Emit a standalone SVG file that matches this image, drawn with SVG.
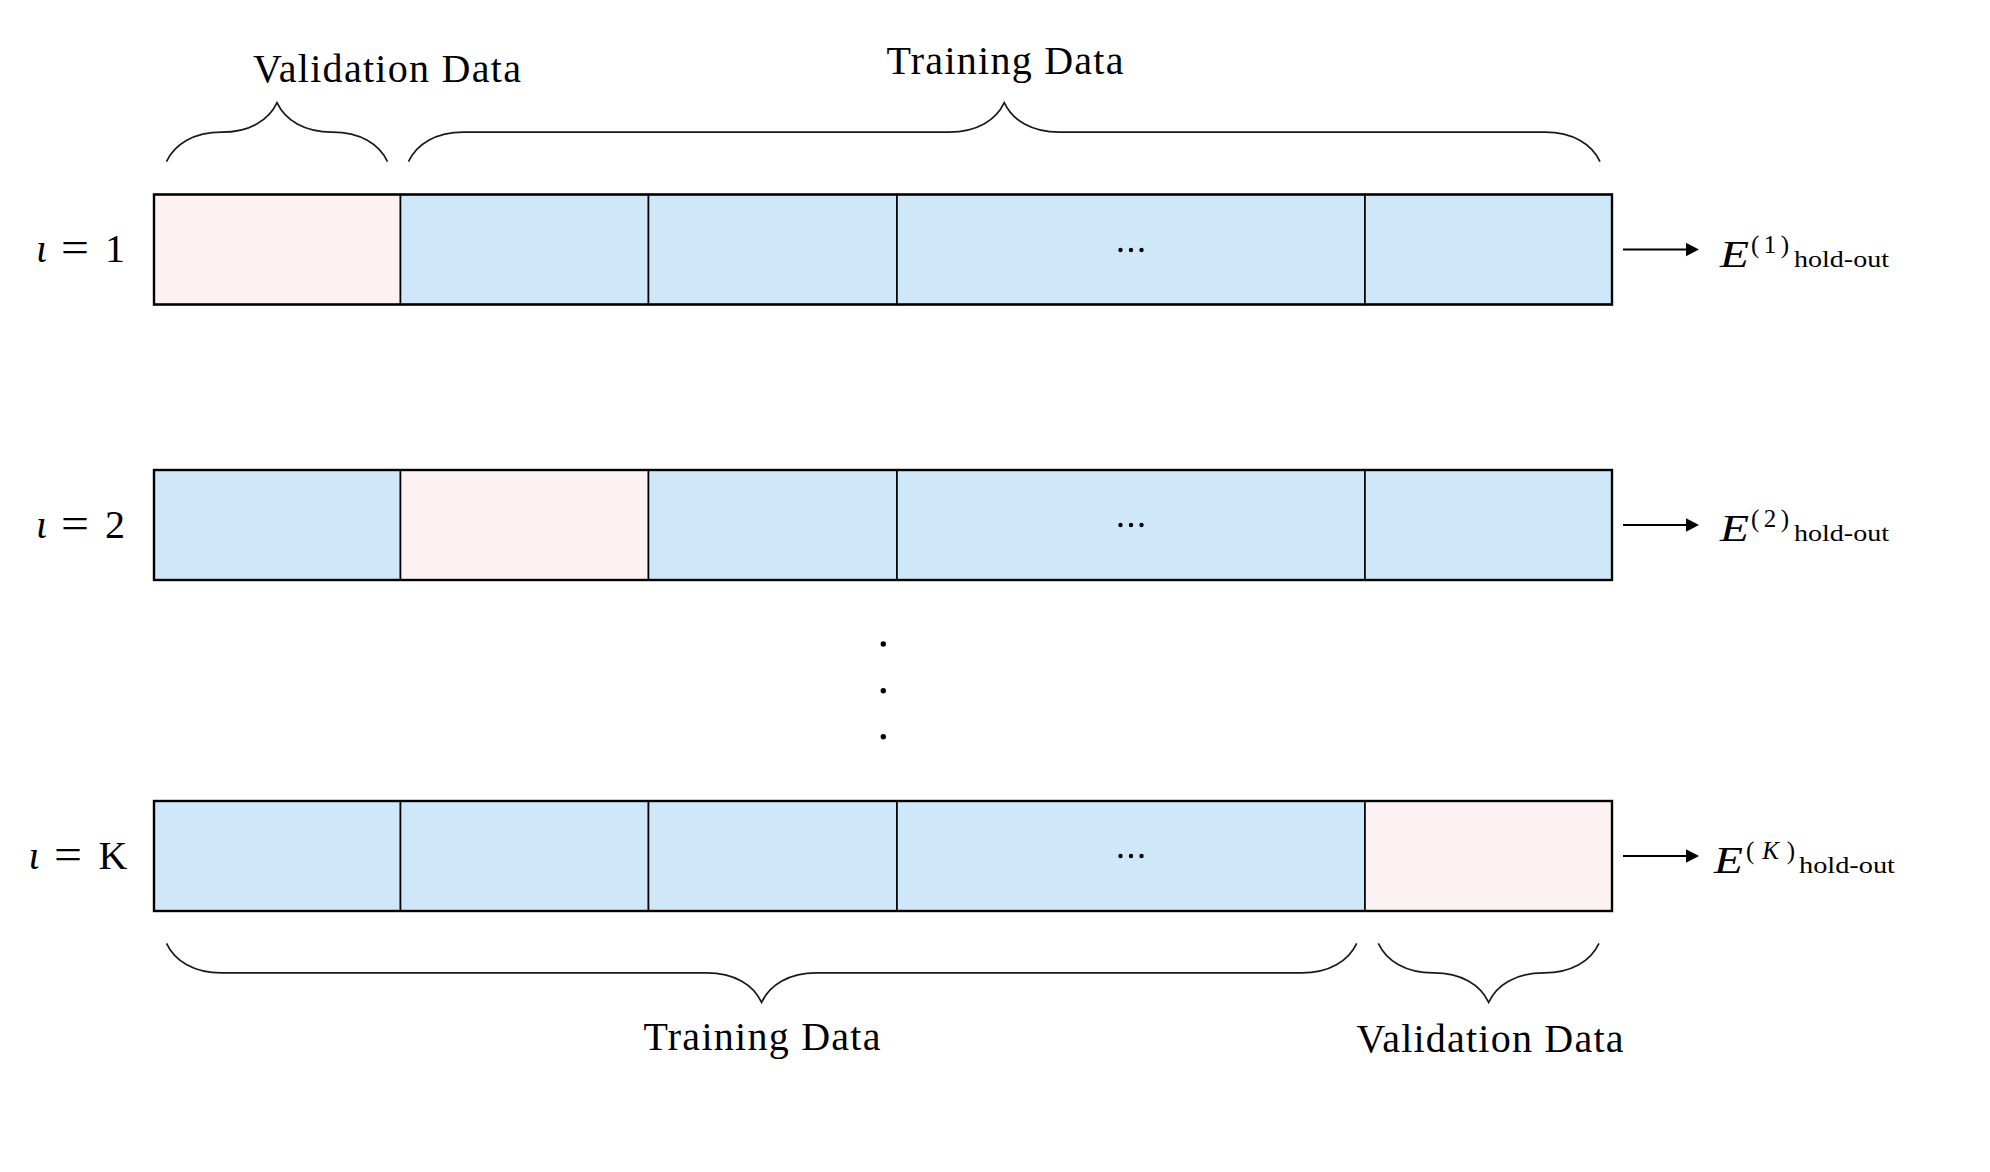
<svg xmlns="http://www.w3.org/2000/svg" width="1990" height="1172" viewBox="0 0 1990 1172">
<style>
  .bg { fill: #ffffff; }
  .train { fill: #CFE8F9; stroke: #000; stroke-width: 1.6; }
  .val { fill: #FCF2F3; stroke: #000; stroke-width: 1.6; }
  .frame { fill: none; stroke: #000; stroke-width: 2.4; }
  .brace { fill: none; stroke: #1a1a1a; stroke-width: 1.7; }
  .lbl { font-family: "Liberation Serif", "DejaVu Serif", serif; font-size: 40px; fill: #000; }
  .math { font-family: "Liberation Serif", "DejaVu Serif", serif; fill: #000; }
  .it { font-style: italic; }
  .dot { fill: #000; }
  .arrow { stroke: #000; stroke-width: 2; fill: none; }
</style>
<defs>
  <marker id="ah" markerWidth="14" markerHeight="14" refX="3" refY="7" orient="auto" markerUnits="userSpaceOnUse">
    <path d="M0,0.3 L13,7 L0,13.7 z" fill="#000"/>
  </marker>
</defs>
<rect class="bg" x="0" y="0" width="1990" height="1172"/>

<!-- Braces and labels -->
<g id="brace-top-validation">
  <path class="brace" d="M166.5,161.7 C174.75,144 194,132.2 221.5,132.2 L222,132.2 C249.5,132.2 268.75,120.4 277,102.7 C285.25,120.4 304.5,132.2 332,132.2 L332.5,132.2 C360,132.2 379.25,144 387.5,161.7"/>
  <text class="lbl" x="387" y="82" text-anchor="middle" textLength="268" lengthAdjust="spacing">Validation Data</text>
</g>
<g id="brace-top-training">
  <path class="brace" d="M408.5,161.7 C416.75,144 436,132.2 463.5,132.2 L949.25,132.2 C976.75,132.2 996,120.4 1004.25,102.7 C1012.5,120.4 1031.75,132.2 1059.25,132.2 L1545,132.2 C1572.5,132.2 1591.75,144 1600,161.7"/>
  <text class="lbl" x="1005" y="74" text-anchor="middle" textLength="237" lengthAdjust="spacing">Training Data</text>
</g>
<g id="brace-bottom-training">
  <path class="brace" d="M166.5,943.3 C174.75,961 194,972.8 221.5,972.8 L706.6,972.8 C734.1,972.8 753.35,984.6 761.6,1002.3 C769.85,984.6 789.1,972.8 816.6,972.8 L1301.7,972.8 C1329.2,972.8 1348.45,961 1356.7,943.3"/>
  <text class="lbl" x="762" y="1050" text-anchor="middle" textLength="237" lengthAdjust="spacing">Training Data</text>
</g>
<g id="brace-bottom-validation">
  <path class="brace" d="M1378.3,943.3 C1386.55,961 1405.8,972.8 1433.3,972.8 L1433.65,972.8 C1461.15,972.8 1480.4,984.6 1488.65,1002.3 C1496.9,984.6 1516.15,972.8 1543.65,972.8 L1544,972.8 C1571.5,972.8 1590.75,961 1599,943.3"/>
  <text class="lbl" x="1490" y="1051.5" text-anchor="middle" textLength="267" lengthAdjust="spacing">Validation Data</text>
</g>

<!-- Row 1 -->
<g id="row-1">
  <text class="math" font-size="40" y="262"><tspan class="it" x="36">ι</tspan><tspan x="61" font-size="44" textLength="28" lengthAdjust="spacingAndGlyphs">=</tspan><tspan x="105">1</tspan></text>
  <rect class="val" x="154" y="194.5" width="246.5" height="110"/>
  <rect class="train" x="400.5" y="194.5" width="248" height="110"/>
  <rect class="train" x="648.5" y="194.5" width="248.5" height="110"/>
  <rect class="train" x="897" y="194.5" width="468" height="110"/>
  <rect class="train" x="1365" y="194.5" width="247" height="110"/>
  <rect class="frame" x="154" y="194.5" width="1458" height="110"/>
  <circle class="dot" cx="1120.5" cy="250" r="2.2"/>
  <circle class="dot" cx="1131" cy="250" r="2.2"/>
  <circle class="dot" cx="1141.5" cy="250" r="2.2"/>
</g>
<g id="out-1">
  <text class="math" y="267"><tspan class="it" x="1720" font-size="38" textLength="29" lengthAdjust="spacingAndGlyphs">E</tspan><tspan x="1751" dy="-14" font-size="25" textLength="38" lengthAdjust="spacing">(1)</tspan><tspan x="1794" dy="14" font-size="23" textLength="95" lengthAdjust="spacingAndGlyphs">hold-out</tspan></text>
</g>

<!-- Row 2 -->
<g id="row-2">
  <text class="math" font-size="40" y="538"><tspan class="it" x="36">ι</tspan><tspan x="61" font-size="44" textLength="28" lengthAdjust="spacingAndGlyphs">=</tspan><tspan x="105">2</tspan></text>
  <rect class="train" x="154" y="470" width="246.5" height="110"/>
  <rect class="val" x="400.5" y="470" width="248" height="110"/>
  <rect class="train" x="648.5" y="470" width="248.5" height="110"/>
  <rect class="train" x="897" y="470" width="468" height="110"/>
  <rect class="train" x="1365" y="470" width="247" height="110"/>
  <rect class="frame" x="154" y="470" width="1458" height="110"/>
  <circle class="dot" cx="1120.5" cy="525" r="2.2"/>
  <circle class="dot" cx="1131" cy="525" r="2.2"/>
  <circle class="dot" cx="1141.5" cy="525" r="2.2"/>
</g>
<g id="out-2">
  <text class="math" y="541"><tspan class="it" x="1720" font-size="38" textLength="29" lengthAdjust="spacingAndGlyphs">E</tspan><tspan x="1751" dy="-14" font-size="25" textLength="38" lengthAdjust="spacing">(2)</tspan><tspan x="1794" dy="14" font-size="23" textLength="95" lengthAdjust="spacingAndGlyphs">hold-out</tspan></text>
</g>

<!-- vertical dots -->
<g id="vdots">
  <circle class="dot" cx="883.3" cy="644" r="2.7"/>
  <circle class="dot" cx="883.3" cy="690.7" r="2.7"/>
  <circle class="dot" cx="883.3" cy="736.7" r="2.7"/>
</g>

<!-- Row K -->
<g id="row-K">
  <text class="math" font-size="40" y="868.5"><tspan class="it" x="28.5">ι</tspan><tspan x="54" font-size="44" textLength="28" lengthAdjust="spacingAndGlyphs">=</tspan><tspan x="98.5">K</tspan></text>
  <rect class="train" x="154" y="801" width="246.5" height="110"/>
  <rect class="train" x="400.5" y="801" width="248" height="110"/>
  <rect class="train" x="648.5" y="801" width="248.5" height="110"/>
  <rect class="train" x="897" y="801" width="468" height="110"/>
  <rect class="val" x="1365" y="801" width="247" height="110"/>
  <rect class="frame" x="154" y="801" width="1458" height="110"/>
  <circle class="dot" cx="1120.5" cy="856" r="2.2"/>
  <circle class="dot" cx="1131" cy="856" r="2.2"/>
  <circle class="dot" cx="1141.5" cy="856" r="2.2"/>
</g>
<g id="out-K">
  <text class="math" y="873"><tspan class="it" x="1714" font-size="38" textLength="29" lengthAdjust="spacingAndGlyphs">E</tspan><tspan x="1746" dy="-14" font-size="25" textLength="49" lengthAdjust="spacing">(<tspan class="it">K</tspan>)</tspan><tspan x="1799" dy="14" font-size="23" textLength="96" lengthAdjust="spacingAndGlyphs">hold-out</tspan></text>
</g>

<!-- Connectors -->
<g id="connectors">
  <line class="arrow" x1="1623" y1="249.5" x2="1689" y2="249.5" marker-end="url(#ah)"/>
  <line class="arrow" x1="1623" y1="525" x2="1689" y2="525" marker-end="url(#ah)"/>
  <line class="arrow" x1="1623" y1="856" x2="1689" y2="856" marker-end="url(#ah)"/>
</g>
</svg>
